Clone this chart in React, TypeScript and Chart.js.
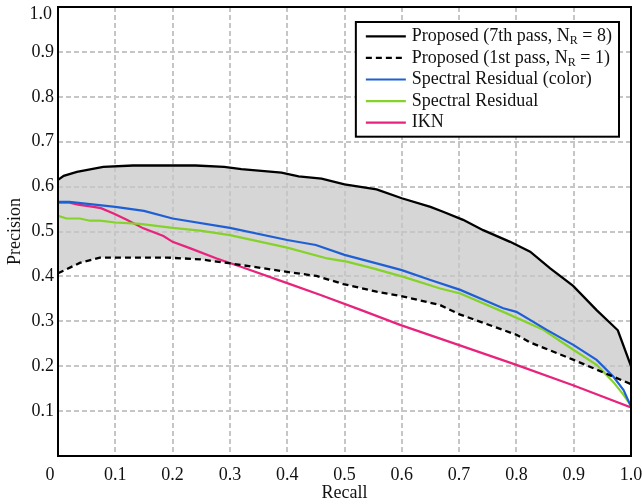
import React, { useEffect, useRef } from 'react';
import { Chart, registerables } from 'chart.js';

Chart.register(...registerables);

// ---- Data ----
const RECALL_7TH = [0, 0.01, 0.033, 0.079, 0.131, 0.24, 0.29, 0.32, 0.39, 0.42, 0.46, 0.5, 0.556, 0.6, 0.65, 0.672, 0.707, 0.742, 0.789, 0.824, 0.859, 0.899, 0.94, 0.977, 1.0];
const PRECISION_7TH = [0.615, 0.624, 0.633, 0.644, 0.647, 0.647, 0.644, 0.639, 0.631, 0.623, 0.618, 0.605, 0.594, 0.574, 0.555, 0.544, 0.526, 0.503, 0.477, 0.455, 0.418, 0.379, 0.325, 0.28, 0.2];

const RECALL_1ST = [0, 0.038, 0.073, 0.19, 0.248, 0.306, 0.4, 0.451, 0.498, 0.556, 0.603, 0.667, 0.702, 0.8, 0.824, 0.9, 1.0];
const PRECISION_1ST = [0.407, 0.43, 0.442, 0.442, 0.438, 0.428, 0.41, 0.401, 0.383, 0.366, 0.355, 0.336, 0.315, 0.27, 0.253, 0.214, 0.16];

const RECALL_SR_COLOR = [0, 0.02, 0.1, 0.15, 0.2, 0.3, 0.4, 0.45, 0.5, 0.556, 0.6, 0.65, 0.702, 0.777, 0.8, 0.853, 0.9, 0.94, 0.969, 0.987, 1.0];
const PRECISION_SR_COLOR = [0.566, 0.566, 0.555, 0.546, 0.529, 0.508, 0.481, 0.47, 0.448, 0.429, 0.414, 0.392, 0.37, 0.329, 0.321, 0.281, 0.247, 0.214, 0.177, 0.147, 0.11];

const RECALL_SR = [0, 0.015, 0.038, 0.056, 0.073, 0.1, 0.143, 0.2, 0.248, 0.3, 0.4, 0.47, 0.504, 0.55, 0.603, 0.667, 0.702, 0.777, 0.847, 0.9, 0.94, 0.969, 0.987, 1.0];
const PRECISION_SR = [0.535, 0.529, 0.529, 0.524, 0.524, 0.52, 0.517, 0.508, 0.502, 0.492, 0.464, 0.44, 0.433, 0.418, 0.399, 0.373, 0.362, 0.321, 0.281, 0.236, 0.203, 0.165, 0.136, 0.112];

const RECALL_IKN = [0, 0.02, 0.035, 0.062, 0.075, 0.097, 0.12, 0.149, 0.184, 0.2, 0.23, 0.277, 0.318, 0.4, 0.457, 0.527, 0.597, 0.7, 0.8, 0.9, 1.0];
const PRECISION_IKN = [0.564, 0.564, 0.56, 0.555, 0.552, 0.54, 0.526, 0.507, 0.49, 0.477, 0.463, 0.44, 0.422, 0.385, 0.359, 0.326, 0.292, 0.247, 0.203, 0.157, 0.108];

const SERIES_NAMES = [
  'Proposed (7th pass, NR = 8)',
  'Proposed (1st pass, NR = 1)',
  'Spectral Residual (color)',
  'Spectral Residual',
  'IKN',
];
// legend labels split into [main, subscript, tail]
const LEGEND_PARTS: [string, string, string][] = [
  ['Proposed (7th pass, N', 'R', ' = 8)'],
  ['Proposed (1st pass, N', 'R', ' = 1)'],
  ['Spectral Residual (color)', '', ''],
  ['Spectral Residual', '', ''],
  ['IKN', '', ''],
];
const COLORS = ['#000000', '#000000', '#1f5fd6', '#84d22a', '#e8237c'];
const DASHES: number[][] = [[], [6, 4], [], [], []];
const TICKS = [0, 0.1, 0.2, 0.3, 0.4, 0.5, 0.6, 0.7, 0.8, 0.9, 1.0];
const X_ORIGIN_LABEL = '0';
const Y_TOP_LABEL = '1.0';
const FONT_FAMILY = '"Liberation Serif", "Times New Roman", serif';
const TEXT_COLOR = '#111';

const pts = (xs: number[], ys: number[]) => xs.map((x, i) => ({ x, y: ys[i] }));

const frameAndLegend = {
  id: 'frameAndLegend',
  afterDatasetsDraw(chart: any) {
    const { ctx, chartArea } = chart;
    ctx.save();
    ctx.strokeStyle = '#000';
    ctx.lineWidth = 2;
    ctx.strokeRect(chartArea.left, chartArea.top, chartArea.right - chartArea.left, chartArea.bottom - chartArea.top);
    ctx.restore();
  },
  afterDraw(chart: any) {
    const { ctx, chartArea } = chart;
    ctx.save();
    const mainFont = `18px ${FONT_FAMILY}`;
    const subFont = `12px ${FONT_FAMILY}`;

    // corner tick labels, nudged inside the canvas as in the reference
    ctx.font = mainFont;
    ctx.fillStyle = TEXT_COLOR;
    ctx.textAlign = 'right';
    ctx.textBaseline = 'middle';
    ctx.fillText(Y_TOP_LABEL, chartArea.left - 6, chartArea.top + 7);
    ctx.textAlign = 'center';
    ctx.textBaseline = 'middle';
    ctx.fillText(X_ORIGIN_LABEL, chartArea.left - 8, chartArea.bottom + 18.8);

    const widths = LEGEND_PARTS.map(([a, s, t]) => {
      ctx.font = mainFont;
      let w = ctx.measureText(a).width + ctx.measureText(t).width;
      ctx.font = subFont;
      w += s ? ctx.measureText(s).width : 0;
      return w;
    });
    const textW = Math.max(...widths);
    const padL = 10, sample = 40, gap = 6, padR = 7;
    const rowH = 21.6, padTop = 14.3, padBot = 14;
    const boxW = padL + sample + gap + textW + padR;
    const boxH = padTop + padBot + rowH * (LEGEND_PARTS.length - 1);
    const right = chartArea.right - 12;
    const left = right - boxW;
    const top = chartArea.top + 15;
    ctx.fillStyle = '#fff';
    ctx.fillRect(left, top, boxW, boxH);
    ctx.strokeStyle = '#000';
    ctx.lineWidth = 2;
    ctx.strokeRect(left, top, boxW, boxH);
    LEGEND_PARTS.forEach(([a, s, t], i) => {
      const y = top + padTop + rowH * i;
      ctx.beginPath();
      ctx.setLineDash(DASHES[i]);
      ctx.strokeStyle = COLORS[i];
      ctx.lineWidth = i < 2 ? 2.3 : 2.2;
      ctx.moveTo(left + padL, y);
      ctx.lineTo(left + padL + sample, y);
      ctx.stroke();
      ctx.setLineDash([]);
      let x = left + padL + sample + gap;
      ctx.fillStyle = TEXT_COLOR;
      ctx.textBaseline = 'middle';
      ctx.textAlign = 'left';
      ctx.font = mainFont;
      ctx.fillText(a, x, y);
      x += ctx.measureText(a).width;
      if (s) {
        ctx.font = subFont;
        ctx.fillText(s, x, y + 5);
        x += ctx.measureText(s).width;
        ctx.font = mainFont;
        ctx.fillText(t, x, y);
      }
    });
    ctx.restore();
  },
};

export default function App() {
  const canvasRef = useRef<HTMLCanvasElement | null>(null);

  useEffect(() => {
    if (!canvasRef.current) return;
    const allX = [RECALL_7TH, RECALL_1ST, RECALL_SR_COLOR, RECALL_SR, RECALL_IKN];
    const allY = [PRECISION_7TH, PRECISION_1ST, PRECISION_SR_COLOR, PRECISION_SR, PRECISION_IKN];
    const datasets = SERIES_NAMES.map((name, i) => ({
      label: name,
      data: pts(allX[i], allY[i]),
      borderColor: COLORS[i],
      borderWidth: i < 2 ? 2.3 : 2.2,
      borderDash: DASHES[i],
      pointRadius: 0,
      tension: 0,
      fill: i === 0 ? '+1' : false,
      backgroundColor: i === 0 ? 'rgb(214,214,214)' : COLORS[i],
    }));

    const grid = { color: '#c6c6c6', lineWidth: 2, drawTicks: false };
    const tickFont = { family: FONT_FAMILY, size: 18 };

    const chart = new Chart(canvasRef.current, {
      type: 'line',
      data: { datasets },
      options: {
        animation: false,
        responsive: false,
        devicePixelRatio: 1,
        layout: { padding: { top: 7, right: 11, left: 0, bottom: 0 } },
        font: { family: FONT_FAMILY, size: 18 },
        color: TEXT_COLOR,
        plugins: {
          legend: { display: false },
          tooltip: { enabled: false },
          filler: { drawTime: 'beforeDraw' },
        },
        scales: {
          x: {
            type: 'linear',
            min: 0,
            max: 1,
            afterBuildTicks: (scale: any) => {
              scale.ticks = TICKS.map((v) => ({ value: v }));
            },
            afterFit: (scale: any) => {
              scale.height = 48;
              scale.paddingRight = 0;
              scale.paddingLeft = 0;
            },
            ticks: {
              padding: 8,
              color: TEXT_COLOR,
              font: tickFont,
              maxRotation: 0,
              autoSkip: false,
              callback: (v: any) => (Number(v) === 0 ? '' : Number(v).toFixed(1)),
            },
            grid,
            border: { display: false, dash: [5, 3] },
            title: {
              display: true,
              text: 'Recall',
              color: TEXT_COLOR,
              font: tickFont,
              padding: { top: 0, bottom: 0 },
            },
          },
          y: {
            type: 'linear',
            min: 0,
            max: 1,
            afterBuildTicks: (scale: any) => {
              scale.ticks = TICKS.map((v) => ({ value: v }));
            },
            afterFit: (scale: any) => {
              scale.width = 58;
              scale.paddingTop = 0;
              scale.paddingBottom = 0;
            },
            ticks: {
              padding: 4,
              color: TEXT_COLOR,
              font: tickFont,
              autoSkip: false,
              callback: (v: any) => {
                const n = Number(v);
                return n === 0 || n === 1 ? '' : n.toFixed(1);
              },
            },
            grid,
            border: { display: false, dash: [5, 3] },
            title: {
              display: true,
              text: 'Precision',
              color: TEXT_COLOR,
              font: tickFont,
              padding: { top: 4, bottom: 0 },
            },
          },
        },
      },
      plugins: [frameAndLegend],
    } as any);

    return () => chart.destroy();
  }, []);

  return (
    <div style={{ position: 'fixed', left: 0, top: 0, width: 642, height: 504, background: '#fff' }}>
      <canvas ref={canvasRef} width={642} height={504} style={{ display: 'block', width: 642, height: 504 }} />
    </div>
  );
}
